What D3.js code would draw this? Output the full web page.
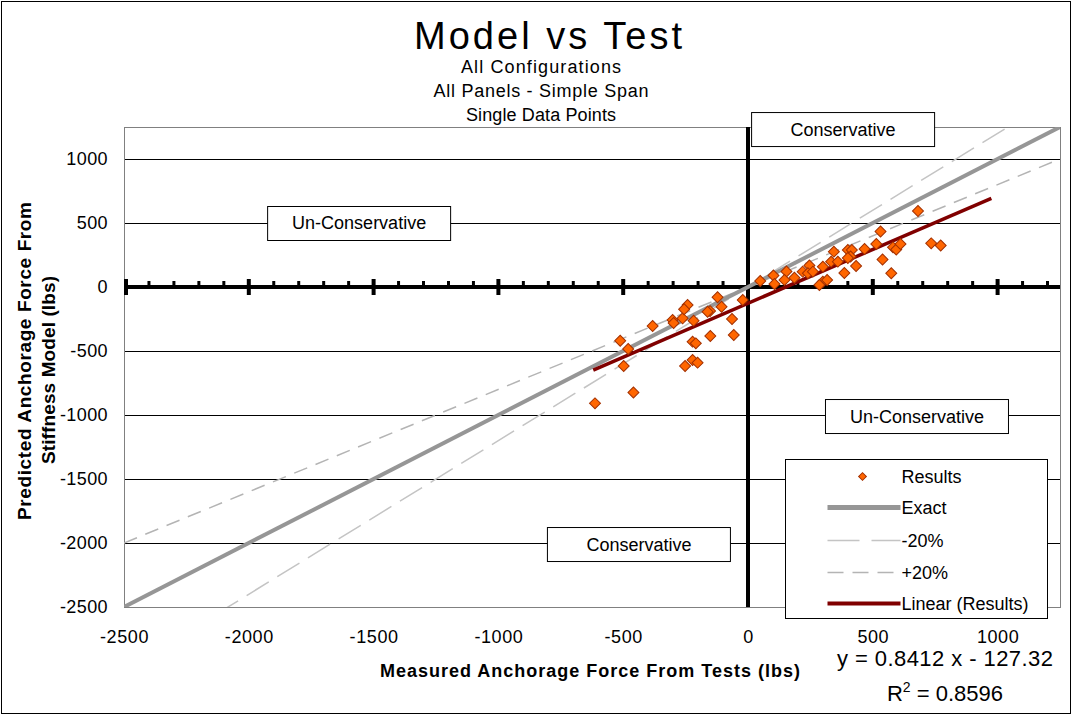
<!DOCTYPE html>
<html>
<head>
<meta charset="utf-8">
<script src="https://cdn.jsdelivr.net/npm/d3@7"></script>
<style>
body{margin:0;background:#fff;}
text{font-family:"Liberation Sans",Arial,sans-serif;fill:#000;}
</style>
</head>
<body>
<svg id="chart"></svg>
<script>
// scatter values (lbs)
var measured=[-613,-459,-498,-480,-512,-382,-302,-298,-262,-218,-242,-256,-122,-106,-152,-162,-64,-21,-151,-57,-222,-209,-222,-202,-252,
  49,102,106,154,146,186,219,246,240,260,300,300,286,317,344,333,360,400,416,411,400,433,386,467,514,531,539,574,581,594,611,681,734,772];
var predicted=[-909,-824,-617,-484,-420,-305,-258,-281,-245,-263,-141,-174,-80,-154,-188,-193,-250,-102,-383,-375,-427,-440,-570,-591,-617,
  47,90,23,121,55,72,120,168,107,120,159,41,16,55,276,198,198,289,289,238,227,164,109,297,336,434,215,107,310,293,336,594,341,324];

var exactX=[-2500,1250], exactY=[-2500,1250];
var minusX=[-2500,1250], minusY=[-3000,1500];
var plusX=[-2500,1250], plusY=[-2000,1000];
var fitSlope=0.8412, fitIntercept=-127.32, fitR2="0.8596";
var fitRange=[-620,975];

var xTicks=[-2500,-2000,-1500,-1000,-500,0,500,1000];
var yTicks=[1000,500,0,-500,-1000,-1500,-2000,-2500];
var legendLabels=["Results","Exact","-20%","+20%","Linear (Results)"];
var boxLabels=["Conservative","Un-Conservative","Un-Conservative","Conservative"];
var boxX=[381,-1558,677,-437];
var boxY=[1234,500,-1008,-2008];

var w=1077;
var h=715;
var plot={left:124,right:1060,top:127,bottom:607};

var xScale=d3.scaleLinear()
             .domain([-2500,1250])
             .range([plot.left,plot.right]);
var yScale=d3.scaleLinear()
             .domain([-2500,1250])
             .range([plot.bottom,plot.top]);

var svg=d3.select("#chart")
          .attr("width",w)
          .attr("height",h);

// outer frame
svg.append("rect")
   .attr("x",1.5).attr("y",1.5)
   .attr("width",w-8).attr("height",h-3)
   .attr("fill","#fff")
   .attr("stroke","#000");

// titles
svg.append("text")
   .attr("x",548).attr("y",49)
   .attr("text-anchor","middle")
   .attr("font-size",38)
   .attr("textLength",268).attr("lengthAdjust","spacing")
   .text("Model vs Test");
var subs=["All Configurations","All Panels - Simple Span","Single Data Points"];
var subW=[160,215,150];
svg.append("g").selectAll("text")
   .data(subs)
   .enter()
   .append("text")
   .attr("x",541)
   .attr("y",function(d,i){return 73+i*24;})
   .attr("text-anchor","middle")
   .attr("font-size",18)
   .attr("textLength",function(d,i){return subW[i];})
   .attr("lengthAdjust","spacing")
   .text(function(d){return d;});

// gridlines
svg.append("g")
   .selectAll("line")
   .data(yTicks.filter(function(d){return d!==0 && d!==-2500;}))
   .enter()
   .append("line")
   .attr("x1",plot.left).attr("x2",plot.right)
   .attr("y1",function(d){return Math.round(yScale(d))+0.5;})
   .attr("y2",function(d){return Math.round(yScale(d))+0.5;})
   .attr("stroke","#000");

svg.append("rect")
   .attr("x",plot.left+0.5).attr("y",plot.top+0.5)
   .attr("width",plot.right-plot.left).attr("height",plot.bottom-plot.top)
   .attr("fill","none")
   .attr("stroke","#808080");

// axes through zero
var y0=yScale(0), x0=xScale(0);
svg.append("line")
   .attr("x1",plot.left).attr("x2",plot.right)
   .attr("y1",y0).attr("y2",y0)
   .attr("stroke","#000").attr("stroke-width",4);
svg.append("line")
   .attr("x1",x0).attr("x2",x0)
   .attr("y1",plot.top).attr("y2",plot.bottom)
   .attr("stroke","#000").attr("stroke-width",4);
var minor=d3.range(-2500,1251,100).filter(function(d){return d%500!==0;});
svg.append("g").selectAll("line")
   .data(minor)
   .enter()
   .append("line")
   .attr("x1",function(d){return xScale(d);})
   .attr("x2",function(d){return xScale(d);})
   .attr("y1",y0-6).attr("y2",y0)
   .attr("stroke","#000").attr("stroke-width",3);
svg.append("g").selectAll("line")
   .data(xTicks)
   .enter()
   .append("line")
   .attr("x1",function(d){return xScale(d)+(d===-2500?2:0);})
   .attr("x2",function(d){return xScale(d)+(d===-2500?2:0);})
   .attr("y1",y0-8).attr("y2",y0+8)
   .attr("stroke","#000").attr("stroke-width",4);

// tick labels
var plain=function(d){return String(d);};
var xAxis=d3.axisBottom(xScale)
            .tickValues(xTicks)
            .tickFormat(plain)
            .tickSize(0)
            .tickPadding(23);
var yAxis=d3.axisLeft(yScale)
            .tickValues(yTicks)
            .tickFormat(plain)
            .tickSize(0)
            .tickPadding(16);
svg.append("g")
   .attr("transform","translate(0,"+plot.bottom+")")
   .call(xAxis)
   .call(function(g){g.select(".domain").remove();})
   .selectAll("text")
   .attr("font-size",18)
   .attr("font-family","Liberation Sans, Arial, sans-serif")
   .attr("letter-spacing",0.6);
svg.append("g")
   .attr("transform","translate("+plot.left+",0)")
   .call(yAxis)
   .call(function(g){g.select(".domain").remove();})
   .selectAll("text")
   .attr("font-size",18)
   .attr("font-family","Liberation Sans, Arial, sans-serif")
   .attr("letter-spacing",0.4);

// axis titles
svg.append("text")
   .attr("transform","translate(31,361) rotate(-90)")
   .attr("text-anchor","middle")
   .attr("font-size",19).attr("font-weight","bold")
   .attr("textLength",318).attr("lengthAdjust","spacing")
   .text("Predicted Anchorage Force From");
svg.append("text")
   .attr("transform","translate(55,370) rotate(-90)")
   .attr("text-anchor","middle")
   .attr("font-size",19).attr("font-weight","bold")
   .attr("textLength",188).attr("lengthAdjust","spacing")
   .text("Stiffness Model (lbs)");
svg.append("text")
   .attr("x",590).attr("y",677)
   .attr("text-anchor","middle")
   .attr("font-size",18).attr("font-weight","bold")
   .attr("textLength",420).attr("lengthAdjust","spacing")
   .text("Measured Anchorage Force From Tests (lbs)");

// reference lines
svg.append("clipPath").attr("id","clip")
   .append("rect")
   .attr("x",plot.left).attr("y",plot.top)
   .attr("width",plot.right-plot.left).attr("height",plot.bottom-plot.top);
var lines=svg.append("g").attr("clip-path","url(#clip)");
var line=d3.line()
           .x(function(d){return xScale(d[0]);})
           .y(function(d){return yScale(d[1]);});
lines.append("path")
     .attr("d",line(d3.zip(minusX,minusY)))
     .attr("fill","none").attr("stroke","#c4c4c4").attr("stroke-width",1.5)
     .attr("stroke-dasharray","26,10");
lines.append("path")
     .attr("d",line(d3.zip(plusX,plusY)))
     .attr("fill","none").attr("stroke","#b4b4b4").attr("stroke-width",1.5)
     .attr("stroke-dasharray","14,9");
lines.append("path")
     .attr("d",line(d3.zip(exactX,exactY)))
     .attr("fill","none").attr("stroke","#969696").attr("stroke-width",4);
lines.append("path")
     .attr("d",line(fitRange.map(function(x){return [x,fitSlope*x+fitIntercept];})))
     .attr("fill","none").attr("stroke","#800000").attr("stroke-width",3.5);

// results
var diamond=d3.symbol(d3.symbolSquare,60);
svg.append("g")
   .selectAll("path")
   .data(d3.range(measured.length))
   .enter()
   .append("path")
   .attr("d",diamond)
   .attr("transform",function(i){
     return "translate("+xScale(measured[i])+","+yScale(predicted[i])+") rotate(45)";
   })
   .attr("fill","#ff6600")
   .attr("stroke","#a33000")
   .attr("stroke-width",1);

// annotation boxes
var boxes=svg.append("g")
             .selectAll("g")
             .data(boxLabels)
             .enter()
             .append("g")
             .attr("transform",function(d,i){
               return "translate("+xScale(boxX[i])+","+yScale(boxY[i])+")";
             });
boxes.append("rect")
     .attr("x",-91.5).attr("y",-16.5)
     .attr("width",183).attr("height",34)
     .attr("fill","#fff").attr("stroke","#000");
boxes.append("text")
     .attr("text-anchor","middle")
     .attr("dy","0.36em")
     .attr("font-size",18)
     .text(function(d){return d;});

// legend
var legend=svg.append("g").attr("transform","translate(785.5,459.5)");
legend.append("rect")
      .attr("width",262).attr("height",159)
      .attr("fill","#fff").attr("stroke","#000");
var rowY=[17,48,81,113,144];
var rows=legend.selectAll("g.row")
               .data(legendLabels)
               .enter()
               .append("g")
               .attr("class","row")
               .attr("transform",function(d,i){return "translate(0,"+rowY[i]+")";});
rows.append("text")
    .attr("x",116)
    .attr("dy","0.36em")
    .attr("font-size",18)
    .text(function(d){return d;});
rows.each(function(d,i){
  var g=d3.select(this);
  if(i===0){
    g.append("path").attr("d",d3.symbol(d3.symbolSquare,30))
     .attr("transform","translate(77,0) rotate(45)")
     .attr("fill","#ff6600").attr("stroke","#a33000");
  } else {
    var st=[null,["#969696",5,null],["#c4c4c4",1.5,"32,12"],["#b4b4b4",1.5,"16,9"],["#800000",4,null]][i];
    g.append("line").attr("x1",42).attr("x2",115).attr("y1",0).attr("y2",0)
     .attr("stroke",st[0]).attr("stroke-width",st[1])
     .attr("stroke-dasharray",st[2]);
  }
});

// trendline equation
svg.append("text")
   .attr("x",945).attr("y",666)
   .attr("text-anchor","middle")
   .attr("font-size",22)
   .attr("textLength",216).attr("lengthAdjust","spacing")
   .text("y = "+fitSlope+" x - "+(-fitIntercept));
var r2=svg.append("text")
          .attr("x",945).attr("y",701)
          .attr("text-anchor","middle")
          .attr("font-size",22);
r2.append("tspan").text("R");
r2.append("tspan").attr("dy",-9).attr("font-size",14).text("2");
r2.append("tspan").attr("dy",9).text(" = "+fitR2);
</script>
</body>
</html>
